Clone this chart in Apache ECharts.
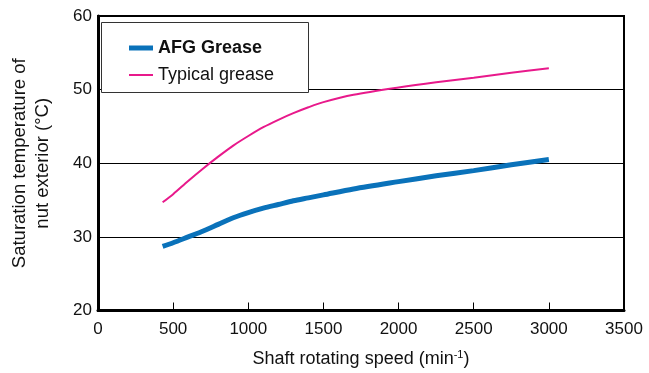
<!DOCTYPE html>
<html>
<head>
<meta charset="utf-8">
<script src="https://cdn.jsdelivr.net/npm/echarts@6/dist/echarts.min.js"></script>
<style>
  html, body { margin: 0; padding: 0; background: #fff; }
  #chart { width: 649px; height: 373px; }
</style>
</head>
<body>
<div id="chart"></div>
<script>
// shaft speed (min-1) and saturation temperatures (°C)
const speeds = [430, 500, 600, 700, 800, 900, 1000, 1100, 1200, 1300, 1400, 1500, 1700, 2000, 2250, 2500, 2750, 3000];
const afgTemps = [28.7, 29.2, 30.0, 30.8, 31.7, 32.6, 33.3, 33.9, 34.4, 34.9, 35.3, 35.7, 36.5, 37.5, 38.3, 39.0, 39.8, 40.5];
const typicalTemps = [34.7, 35.8, 37.6, 39.3, 40.9, 42.4, 43.7, 44.9, 45.9, 46.8, 47.6, 48.3, 49.3, 50.3, 51.0, 51.6, 52.3, 52.9];

const blue = "#0a72ba";
const pink = "#e8198b";
const font = "Liberation Sans, Arial, sans-serif";

function pairs(ys) {
  return speeds.map(function (x, i) { return [x, ys[i]]; });
}

let chartDom = document.getElementById("chart");
let myChart = echarts.init(chartDom);

let option = {
  animation: false,
  textStyle: { fontFamily: font },
  grid: {
    left: 96,
    right: 25,
    top: 16,
    bottom: 61,
    show: true,
    borderColor: "#000",
    borderWidth: 2,
  },
  graphic: [
    {
      type: "rect",
      z: 50,
      shape: { x: 101.5, y: 22.5, width: 207, height: 70 },
      style: { fill: "#fff", stroke: "#333", lineWidth: 1 },
    },
  ],
  legend: [
    {
      left: 124,
      top: 34,
      z: 60,
      data: [{ name: "AFG Grease", icon: "rect" }],
      itemWidth: 24,
      itemHeight: 5,
      textStyle: { fontSize: 18, fontWeight: "bold", color: "#111", fontFamily: font },
    },
    {
      left: 124,
      top: 61,
      z: 60,
      data: [{ name: "Typical grease", icon: "rect" }],
      itemWidth: 24,
      itemHeight: 2,
      textStyle: { fontSize: 18, color: "#111", fontFamily: font },
    },
  ],
  xAxis: {
    type: "value",
    min: 0,
    max: 3500,
    interval: 500,
    name: "Shaft rotating speed (min{sup|-1})",
    nameLocation: "middle",
    nameGap: 39,
    nameTextStyle: {
      fontSize: 18,
      color: "#111",
      rich: {
        sup: { fontSize: 11, verticalAlign: "top", padding: [0, 0, 8, 0], color: "#111" },
      },
    },
    axisLine: { lineStyle: { color: "#000", width: 3 } },
    axisTick: { inside: true, length: 8, lineStyle: { color: "#000", width: 1 } },
    axisLabel: {
      fontSize: 17,
      color: "#111",
      margin: 10,
      formatter: function (v) { return String(v); },
    },
    splitLine: { show: false },
  },
  yAxis: {
    type: "value",
    min: 20,
    max: 60,
    interval: 10,
    name: "Saturation temperature of\nnut exterior (°C)",
    nameLocation: "middle",
    nameGap: 44,
    nameTextStyle: { fontSize: 18.5, color: "#111", lineHeight: 23 },
    axisLine: { lineStyle: { color: "#000", width: 3 } },
    axisTick: { show: false },
    axisLabel: { fontSize: 17, color: "#111", margin: 6 },
    splitLine: { lineStyle: { color: "#000", width: 1 } },
  },
  series: [
    {
      name: "AFG Grease",
      type: "line",
      smooth: 0.3,
      showSymbol: false,
      color: blue,
      lineStyle: { color: blue, width: 5 },
      data: pairs(afgTemps),
    },
    {
      name: "Typical grease",
      type: "line",
      smooth: 0.3,
      showSymbol: false,
      color: pink,
      lineStyle: { color: pink, width: 2 },
      data: pairs(typicalTemps),
    },
  ],
};
option && myChart.setOption(option);
</script>
</body>
</html>
